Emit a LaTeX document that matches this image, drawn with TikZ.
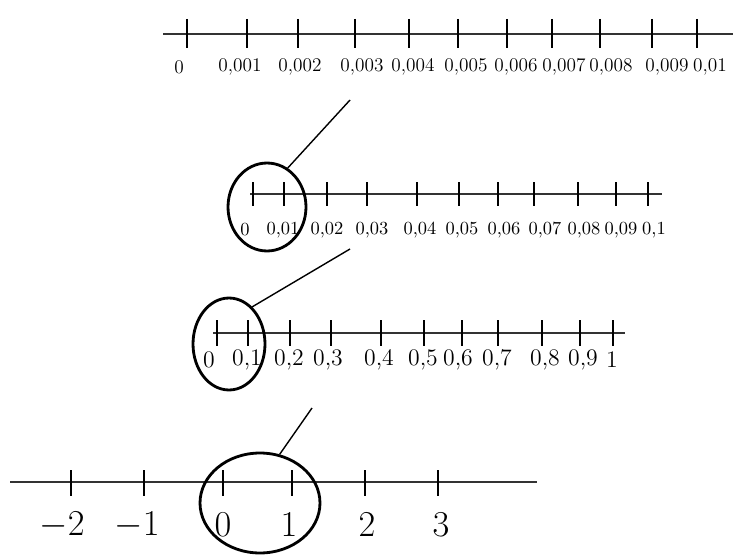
\documentclass[tikz,border=0pt]{standalone}
\usepackage{tikz}
\usetikzlibrary{shapes.geometric}
\tikzset{
  axisline/.style={thick,black!80},
  tickmark/.style={semithick},
  zoomring/.style={draw,ellipse,ultra thick,inner sep=0pt},
  zoomline/.style={thick},
}

\begin{document}
\begin{tikzpicture}[x=0.02cm,y=-0.02cm]
  \useasboundingbox (0,0) rectangle (733,554);
  % thousandths
  \draw[axisline] (163,34) -- (733,34);
  \foreach \x/\lx/\lab [count=\i] in {187/179/0,247/240/{0,001},298/300/{0,002},355/362/{0,003},
      409/413/{0,004},458/466/{0,005},507/516/{0,006},552/564/{0,007},600/611/{0,008},
      652/667/{0,009},697/710/{0,01}}
    {\draw[tickmark] (\x,19)--(\x,48);
     \node[font=\fontsize{11}{13}\selectfont] (a\i) at (\lx,67) {\lab};}
  % hundredths
  \draw[axisline] (250,194) -- (662,194);
  \foreach \x/\lx/\lab [count=\i] in {253/245/0,284/283/{0,01},327/327/{0,02},367/372/{0,03},
      417/420/{0,04},459/462/{0,05},498/504/{0,06},534/545/{0,07},578/584/{0,08},
      616/621/{0,09},648/654/{0,1}}
    {\draw[tickmark] (\x,182)--(\x,206);
     \node[font=\fontsize{10.5}{12}\selectfont] (b\i) at (\lx,230) {\lab};}
  % tenths
  \draw[axisline] (213,333) -- (625,333);
  \foreach \x/\lx/\lab [count=\i] in {217/209/0,248/247/{0,1},290/289/{0,2},331/328/{0,3},
      381/379/{0,4},424/423/{0,5},462/458/{0,6},498/497/{0,7},542/545/{0,8},
      580/583/{0,9},613/612/1}
    {\draw[tickmark] (\x,320)--(\x,346);
     \node[font=\fontsize{13.5}{16}\selectfont] (c\i) at (\lx,360) {\lab};}
  % integers
  \draw[axisline] (10,482) -- (537,482);
  \foreach \x/\lx/\lab [count=\i] in {71/62/-2,144/137/-1,223/223/0,292/289/1,365/367/2,438/441/3}
    {\draw[tickmark] (\x,470)--(\x,496);
     \node[font=\huge] (d\i) at (\lx,525) {$\lab$};}
  % zoom rings and their lines
  \node[zoomring,minimum width=1.56cm,minimum height=1.76cm] (ringB) at (267,207) {};
  \node[zoomring,minimum width=1.44cm,minimum height=1.84cm] (ringC) at (229,344) {};
  \node[zoomring,minimum width=2.4cm,minimum height=2.0cm] (ringD) at (260,503) {};
  \coordinate (fromA) at (350,100);
  \coordinate (fromB) at (350,249);
  \coordinate (fromC) at (312,408);
  \draw[zoomline] (fromA) -- (ringB.62);
  \draw[zoomline] (fromB) -- (ringC.58);
  \draw[zoomline] (fromC) -- (ringD.68);
\end{tikzpicture}
\end{document}
